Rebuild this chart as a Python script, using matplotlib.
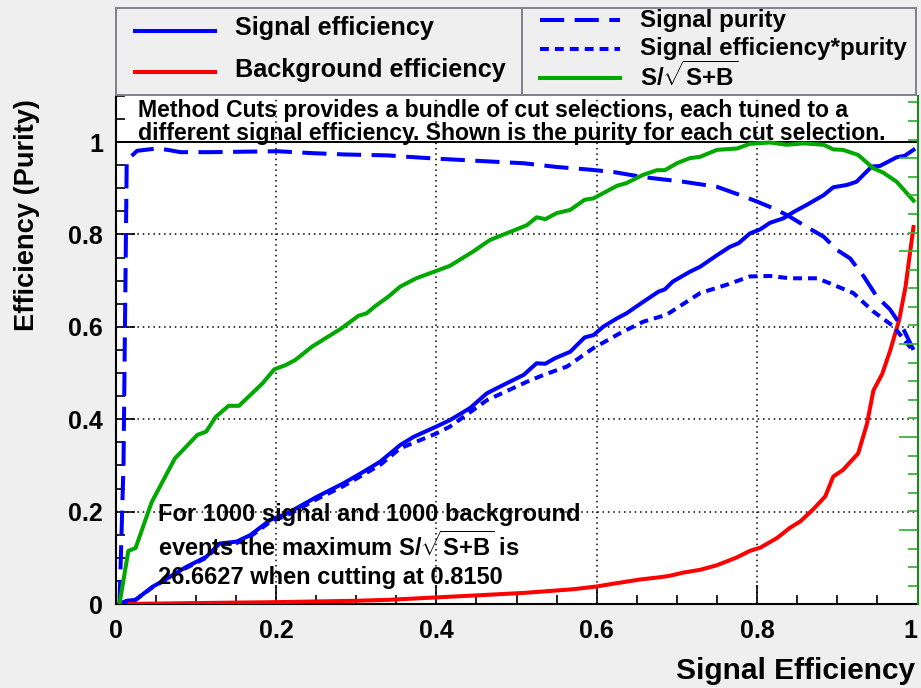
import matplotlib
matplotlib.use("Agg")
import matplotlib.pyplot as plt
from matplotlib.ticker import MultipleLocator, FuncFormatter
from matplotlib.patches import Rectangle
from matplotlib.lines import Line2D

# Cut efficiencies vs signal efficiency (TMVA Method Cuts)
green_x = [0.005, 0.016, 0.025, 0.045, 0.074, 0.084, 0.102, 0.113, 0.125, 0.141, 0.154, 0.183,
           0.198, 0.212, 0.224, 0.245, 0.282, 0.303, 0.313, 0.324, 0.34, 0.355, 0.375, 0.40,
           0.417, 0.446, 0.467, 0.513, 0.525, 0.536, 0.55, 0.567, 0.585, 0.596, 0.625, 0.637,
           0.658, 0.675, 0.685, 0.700, 0.716, 0.729, 0.75, 0.775, 0.791, 0.816, 0.837, 0.858,
           0.883, 0.895, 0.907, 0.926, 0.945, 0.957, 0.974, 0.995]
green_y = [0.0, 0.115, 0.121, 0.22, 0.315, 0.333, 0.366, 0.373, 0.405, 0.429, 0.429, 0.477,
           0.508, 0.517, 0.528, 0.557, 0.597, 0.624, 0.629, 0.645, 0.665, 0.687, 0.705, 0.721,
           0.732, 0.763, 0.788, 0.82, 0.837, 0.833, 0.846, 0.853, 0.875, 0.878, 0.905, 0.911,
           0.929, 0.939, 0.939, 0.954, 0.965, 0.968, 0.983, 0.986, 0.996, 0.999, 0.994, 0.997,
           0.994, 0.984, 0.983, 0.972, 0.943, 0.934, 0.914, 0.873]

eff_x = [0.005, 0.014, 0.025, 0.046, 0.067, 0.088, 0.113, 0.13, 0.151, 0.168, 0.193, 0.214,
         0.251, 0.284, 0.309, 0.33, 0.355, 0.372, 0.40, 0.417, 0.442, 0.463, 0.488, 0.509,
         0.525, 0.536, 0.548, 0.567, 0.585, 0.596, 0.608, 0.625, 0.637, 0.658, 0.677, 0.685,
         0.695, 0.716, 0.729, 0.75, 0.766, 0.777, 0.791, 0.804, 0.816, 0.833, 0.846, 0.862,
         0.883, 0.895, 0.912, 0.924, 0.943, 0.953, 0.974, 0.984, 0.995]
eff_y = [0.0, 0.007, 0.009, 0.037, 0.058, 0.08, 0.102, 0.131, 0.135, 0.149, 0.182, 0.196,
         0.232, 0.261, 0.286, 0.308, 0.344, 0.362, 0.384, 0.398, 0.424, 0.456, 0.478, 0.496,
         0.521, 0.520, 0.532, 0.546, 0.577, 0.582, 0.6, 0.618, 0.629, 0.654, 0.676, 0.681,
         0.698, 0.719, 0.730, 0.755, 0.773, 0.781, 0.802, 0.811, 0.825, 0.835, 0.849, 0.864,
         0.885, 0.902, 0.907, 0.914, 0.947, 0.948, 0.967, 0.970, 0.983]

effpur_x = [0.005, 0.014, 0.025, 0.046, 0.067, 0.088, 0.113, 0.13, 0.151, 0.168, 0.193, 0.214,
            0.251, 0.284, 0.309, 0.33, 0.355, 0.40, 0.417, 0.463, 0.513, 0.534, 0.563, 0.596,
            0.629, 0.658, 0.687, 0.729, 0.762, 0.791, 0.816, 0.841, 0.875, 0.895, 0.920, 0.945,
            0.970, 0.995]
effpur_y = [0.0, 0.006, 0.009, 0.036, 0.057, 0.078, 0.1, 0.128, 0.132, 0.146, 0.178, 0.192,
            0.227, 0.255, 0.28, 0.301, 0.337, 0.369, 0.384, 0.441, 0.481, 0.496, 0.514, 0.554,
            0.586, 0.611, 0.626, 0.673, 0.691, 0.709, 0.71, 0.705, 0.705, 0.691, 0.673, 0.633,
            0.601, 0.547]

pur_x = [0.005, 0.01, 0.014, 0.027, 0.052, 0.065, 0.081, 0.119, 0.202, 0.244, 0.286, 0.34,
         0.364, 0.40, 0.454, 0.509, 0.55, 0.592, 0.621, 0.658, 0.708, 0.75, 0.779, 0.8, 0.825,
         0.841, 0.862, 0.883, 0.9, 0.916, 0.933, 0.949, 0.966, 0.983, 0.995]
pur_y = [0.0, 0.304, 0.96, 0.981, 0.986, 0.983, 0.978, 0.978, 0.980, 0.976, 0.973, 0.971,
         0.968, 0.964, 0.959, 0.954, 0.946, 0.940, 0.935, 0.924, 0.914, 0.903, 0.885, 0.871,
         0.853, 0.838, 0.816, 0.795, 0.766, 0.748, 0.709, 0.666, 0.637, 0.593, 0.55]

bkg_x = [0.005, 0.1, 0.2, 0.3, 0.34, 0.454, 0.509, 0.571, 0.6, 0.621, 0.654, 0.679, 0.691,
         0.708, 0.729, 0.75, 0.775, 0.791, 0.804, 0.825, 0.841, 0.854, 0.87, 0.885, 0.895,
         0.907, 0.926, 0.937, 0.945, 0.956, 0.966, 0.977, 0.985, 0.995]
bkg_y = [0.0, 0.002, 0.004, 0.007, 0.009, 0.019, 0.024, 0.032, 0.038, 0.044, 0.053, 0.058,
         0.061, 0.068, 0.074, 0.084, 0.101, 0.115, 0.122, 0.143, 0.165, 0.179, 0.205, 0.233,
         0.276, 0.29, 0.326, 0.39, 0.462, 0.498, 0.549, 0.614, 0.686, 0.816]

x_ticks = [0, 0.2, 0.4, 0.6, 0.8, 1.0]
y_ticks = [0, 0.2, 0.4, 0.6, 0.8, 1.0]

n_sig, n_bkg = 1000, 1000
max_sig = 26.6627
best_cut = 0.8150

FONT = ['Liberation Sans', 'DejaVu Sans']
plt.rcParams['font.family'] = FONT
plt.rcParams['font.weight'] = 'bold'
plt.rcParams['mathtext.fontset'] = 'custom'
plt.rcParams['mathtext.rm'] = 'Liberation Sans:bold'
plt.rcParams['mathtext.bf'] = 'Liberation Sans:bold'
plt.rcParams['mathtext.it'] = 'Liberation Sans:bold'

W, H = 921, 688
BLUE, RED, GREEN = '#0000ff', '#ff0000', '#00a800'
LW = 2.9
long_dash = (0, (6, 2.6))
short_dash = (0, (2.2, 1.5))
SQRT = r'S/$\sqrt{\mathrm{S{+}B}}$'

fig = plt.figure(figsize=(W / 100, H / 100), dpi=100, facecolor='#efefef')
ax = fig.add_axes([115.5 / W, 84 / H, 802 / W, 508.2 / H])
ax.set_facecolor('white')
ax.set_xlim(0, 1)
ax.set_ylim(0, 1.1)

l_eff, = ax.plot(eff_x, eff_y, color=BLUE, lw=LW, zorder=5)
l_bkg, = ax.plot(bkg_x, bkg_y, color=RED, lw=LW, zorder=5)
l_pur, = ax.plot(pur_x, pur_y, color=BLUE, lw=LW, ls=long_dash, zorder=5)
l_effpur, = ax.plot(effpur_x, effpur_y, color=BLUE, lw=LW, ls=short_dash, zorder=5)
l_sig, = ax.plot(green_x, green_y, color=GREEN, lw=LW, zorder=5)

# dotted grid and reference line at 1
for gx in x_ticks[1:-1]:
    ax.axvline(gx, color='black', lw=1.1, ls=(0, (1, 2.5)), zorder=1)
for gy in y_ticks[1:-1]:
    ax.axhline(gy, color='black', lw=1.1, ls=(0, (1, 2.5)), zorder=1)
ax.axhline(1.0, color='black', lw=1.4, zorder=2)

ax.set_xticks(x_ticks)
ax.set_yticks(y_ticks)
ax.xaxis.set_minor_locator(MultipleLocator(0.05))
ax.yaxis.set_minor_locator(MultipleLocator(0.05))
fmt = FuncFormatter(lambda v, p: '%g' % round(v, 3))
ax.xaxis.set_major_formatter(fmt)
ax.yaxis.set_major_formatter(fmt)
ax.tick_params(which='both', direction='in', top=False, right=False, width=1.2, color='black',
               labelsize=18)
ax.tick_params(which='major', length=14)
ax.tick_params(which='minor', length=6.5)
ax.tick_params(axis='y', which='major', pad=9)
ax.tick_params(axis='x', which='major', pad=11)
# keep the last x label inside the canvas
ax.xaxis.get_major_ticks()[-1].label1.set_horizontalalignment('right')
for s in ['left', 'bottom']:
    ax.spines[s].set_linewidth(1.5)
ax.spines['top'].set_visible(False)
ax.spines['right'].set_visible(False)

# green S/sqrt(S+B) scale on the right
ax2 = ax.twinx()
ax2.set_ylim(1.026, 28.35)
ax2.yaxis.set_major_locator(MultipleLocator(5))
ax2.yaxis.set_minor_locator(MultipleLocator(1))
ax2.tick_params(which='both', direction='in', right=True, labelright=False, color='#3cb43c', width=1.3)
ax2.tick_params(which='major', length=14)
ax2.tick_params(which='minor', length=7)
for s in ['left', 'top', 'bottom']:
    ax2.spines[s].set_visible(False)
ax2.spines['right'].set_color('#1a8a1a')
ax2.spines['right'].set_linewidth(1.5)

# axis titles
fig.text(915 / W, 1 - 671 / H, 'Signal Efficiency', ha='right', va='center', fontsize=21.5)
fig.text(27 / W, 1 - 215 / H, 'Efficiency (Purity)', ha='center', va='center', rotation=90,
         fontsize=19.6)

# explanatory text
ax.text(0.028, 1.055, 'Method Cuts provides a bundle of cut selections, each tuned to a',
        ha='left', va='baseline', fontsize=16.6, zorder=6)
ax.text(0.028, 1.005, 'different signal efficiency. Shown is the purity for each cut selection.',
        ha='left', va='baseline', fontsize=16.6, zorder=6)
info = ['For %d signal and %d background' % (n_sig, n_bkg),
        'events the maximum %s is' % SQRT,
        '%.4f when cutting at %.4f' % (max_sig, best_cut)]
for i, line in enumerate(info):
    ax.text(0.053, 0.194 - i * 0.068, line, ha='left', va='center', fontsize=17, zorder=6)

# legend panel across the top
fig.add_artist(Rectangle((116 / W, 1 - 95 / H), 800 / W, 87 / H, transform=fig.transFigure,
                         facecolor='#efefef', edgecolor='#80808c', lw=1.4))
fig.add_artist(Line2D([522 / W, 522 / W], [1 - 95 / H, 1 - 8 / H], transform=fig.transFigure,
                      color='#80808c', lw=1.4))
entries = [(BLUE, '-', 'Signal efficiency', 135, 31, 28, 18.2),
           (RED, '-', 'Background efficiency', 135, 72, 70, 18.2),
           (BLUE, long_dash, 'Signal purity', 540, 20, 20, 17.4),
           (BLUE, short_dash, 'Signal efficiency*purity', 540, 49, 49, 17.4),
           (GREEN, '-', SQRT, 540, 78, 76, 17.4)]
for color, style, label, x0, y0, yt, fs in entries:
    fig.add_artist(Line2D([x0 / W, (x0 + 80) / W], [1 - y0 / H] * 2, transform=fig.transFigure,
                          color=color, lw=LW, ls=style))
    fig.text((x0 + 100) / W, 1 - yt / H, label, ha='left', va='center', fontsize=fs)

fig.savefig('out.png', dpi=100, facecolor=fig.get_facecolor())
